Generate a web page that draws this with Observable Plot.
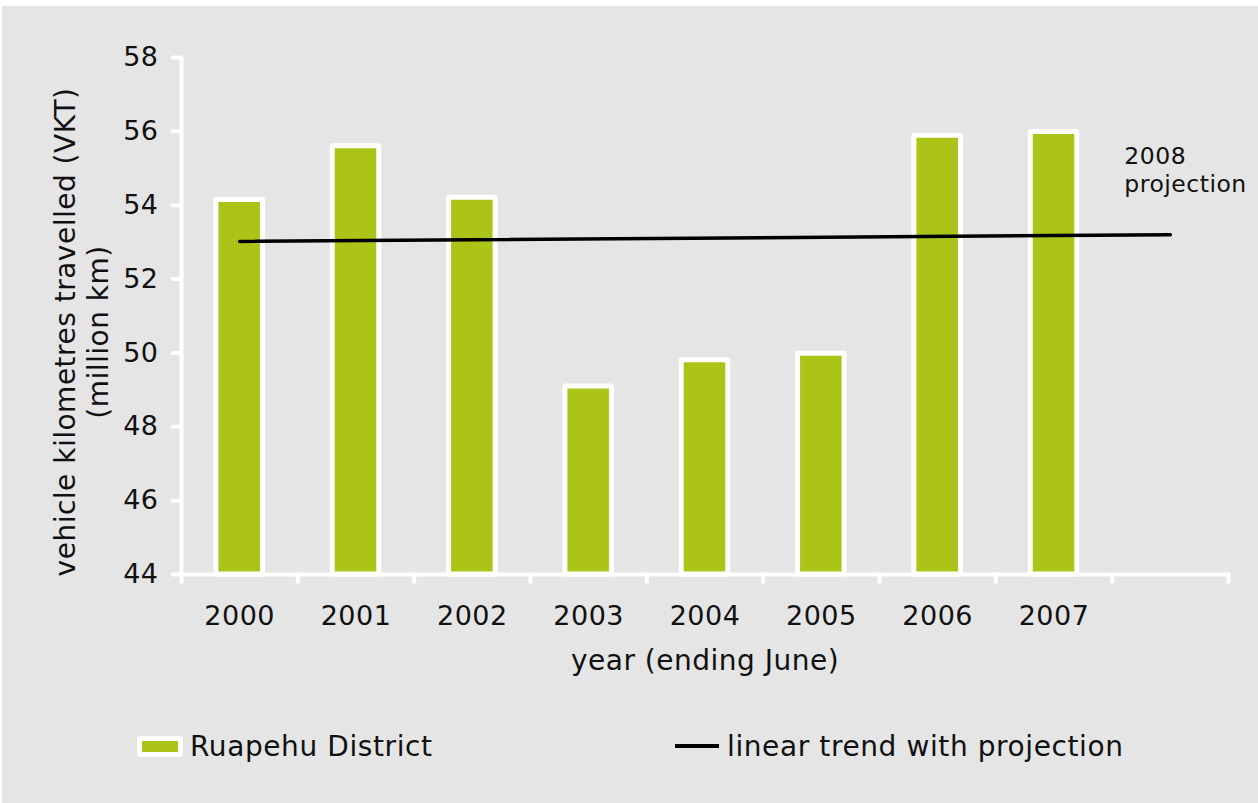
<!DOCTYPE html>
<html>
<head>
<meta charset="utf-8">
<script src="https://cdn.jsdelivr.net/npm/d3@7"></script>
<script src="https://cdn.jsdelivr.net/npm/@observablehq/plot@0.6"></script>
<style>
html, body { margin: 0; padding: 0; background: #ffffff; }
#panel { position: absolute; left: 2px; top: 6px; width: 1256px; height: 797px; background: #e5e5e5;
  font-family: "DejaVu Sans", sans-serif; color: #111; overflow: hidden; }
#chart { position: absolute; left: 0; top: 0; }
#chart text { letter-spacing: 0.5px; }
.leg-item { position: absolute; top: 724px; height: 32px; display: flex; align-items: center; white-space: nowrap; font-size: 28px; letter-spacing: 0.6px; }
.sw-bar { width: 36px; height: 11px; border: 5px solid #fff; border-radius: 3px; margin-right: 7px; }
.sw-line { width: 44px; height: 4px; background: #000; margin-right: 8px; }
</style>
</head>
<body>
<div id="panel">
  <div id="chart"></div>
  <div class="leg-item" style="left:135px"><div class="sw-bar" id="sw1"></div><span id="leg1"></span></div>
  <div class="leg-item" style="left:673px"><div class="sw-line"></div><span id="leg2"></span></div>
</div>
<script>
// ---- data ----
const years = [2000, 2001, 2002, 2003, 2004, 2005, 2006, 2007];
const vkt = [54.14, 55.6, 54.2, 49.09, 49.8, 49.98, 55.88, 55.98];
const trendYears = [2000, 2008];
const trendValues = [53.02, 53.2];
const yTicks = [44, 46, 48, 50, 52, 54, 56, 58];
const xTickLabels = ["2000", "2001", "2002", "2003", "2004", "2005", "2006", "2007"];
const seriesName = "Ruapehu District";
const trendName = "linear trend with projection";
const projectionLabel = "2008\nprojection";
const xTitle = "year (ending June)";
const yTitle = "vehicle kilometres travelled (VKT)\n(million km)";

const GREEN = "#acc418";

const bars = years.map((year, i) => ({year, value: vkt[i]}));
const trend = trendYears.map((year, i) => ({year, value: trendValues[i]}));
const bounds = d3.range(years[0] - 0.5, trendYears[1] + 1, 1);

const chart = Plot.plot({
  width: 1256,
  height: 690,
  marginLeft: 179,
  marginRight: 30,
  marginTop: 51,
  marginBottom: 122,
  style: {background: "transparent", fontFamily: "DejaVu Sans", color: "#111", overflow: "visible"},
  x: {type: "linear", domain: [bounds[0], bounds[bounds.length - 1]]},
  y: {domain: [yTicks[0], yTicks[yTicks.length - 1]]},
  marks: [
    Plot.rect(bars, {x1: d => d.year - 0.2, x2: d => d.year + 0.2, y1: yTicks[0], y2: "value",
      fill: GREEN, stroke: "white", strokeWidth: 5, strokeLinejoin: "round"}),
    Plot.ruleY([yTicks[0]], {stroke: "white", strokeWidth: 4}),
    Plot.ruleX([bounds[0]], {y1: yTicks[0], y2: yTicks[yTicks.length - 1], stroke: "white", strokeWidth: 4}),
    Plot.axisY(yTicks, {tickSize: 8, stroke: "white", strokeWidth: 4, strokeLinecap: "round", tickFormat: () => "", label: null}),
    Plot.axisY(yTicks, {tickSize: 0, tickPadding: 23, fontSize: 27, label: null, tickFormat: d => String(d)}),
    Plot.axisX(bounds, {tickSize: 8, stroke: "white", strokeWidth: 4, strokeLinecap: "round", tickFormat: () => "", label: null}),
    Plot.axisX(years, {tickSize: 0, tickPadding: 31, fontSize: 27, label: null, tickFormat: d => xTickLabels[years.indexOf(d)]}),
    Plot.line(trend, {x: "year", y: "value", stroke: "#000", strokeWidth: 3.5}),
    Plot.text([projectionLabel], {x: trendYears[1], y: trendValues[1], dx: -46, dy: -66,
      textAnchor: "start", fontSize: 23.5, lineHeight: 1.2, fill: "#111"}),
    Plot.text([xTitle], {frameAnchor: "bottom", dy: 95, fontSize: 28, fill: "#111"}),
    Plot.text([yTitle], {frameAnchor: "left", textAnchor: "middle", rotate: -90, dx: -100.5, dy: 16,
      fontSize: 28, lineHeight: 1.18, fill: "#111"})
  ]
});
document.getElementById("chart").appendChild(chart);
document.getElementById("sw1").style.background = GREEN;
document.getElementById("leg1").textContent = seriesName;
document.getElementById("leg2").textContent = trendName;
</script>
</body>
</html>
